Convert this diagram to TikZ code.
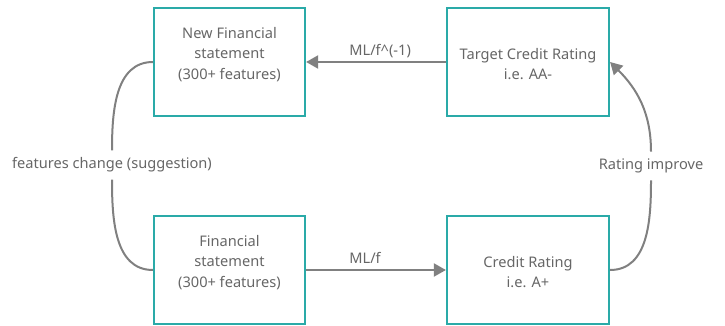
\documentclass[tikz,border=0pt]{standalone}
\usepackage{fontspec}
\setmainfont{Noto Sans}
\usetikzlibrary{arrows.meta}
\definecolor{boxteal}{RGB}{42,170,168}
\definecolor{linegray}{RGB}{128,128,128}
\definecolor{textgray}{RGB}{102,102,102}

\begin{document}
\begin{tikzpicture}[x=1pt, y=-1pt,
		box/.style={draw=boxteal, line width=2.2pt, minimum width=#1, minimum height=108pt, inner sep=0pt},
		boxtext/.style={align=center, text=textgray, font=\fontsize{14.6}{20.2}\selectfont},
		conn/.style={draw=linegray, line width=2pt},
		flow/.style={conn, -{Triangle[length=12pt, width=13pt]}},
		lbl/.style={text=textgray, font=\fontsize{14.6}{17}\selectfont, inner sep=0pt}]
		    \begin{scope}
					\useasboundingbox (0,0) rectangle (725,326);

					\node[box=151pt] (newfs) at (229.5,62) {};
					\node[box=162pt] (tcr) at (528,62) {};
					\node[box=151pt] (fs) at (229.5,270) {};
					\node[box=162pt] (cr) at (528,270) {};

					\node[boxtext] (newfs-t) at ([yshift=7.5pt]newfs.center) {New Financial\\statement\\(300+ features)};
					\node[boxtext] (tcr-t) at ([yshift=-2pt]tcr.center) {Target Credit Rating\\i.e. AA-};
					\node[boxtext] (fs-t) at ([yshift=7.5pt]fs.center) {Financial\\statement\\(300+ features)};
					\node[boxtext] (cr-t) at ([yshift=-2pt]cr.center) {Credit Rating\\i.e. A+};

					\node[lbl, inner ysep=7pt] (chg) at (112,165) {features change (suggestion)};
					\node[lbl, inner ysep=7pt] (rimp) at (651,166) {Rating improve};

					\draw[flow] (tcr.west) -- node[lbl, pos=0.6975, anchor=base west, yshift=6.5pt] (mlinv) {ML/f\textasciicircum(-1)} (newfs.east); % inverse model
					\draw[flow] (fs.east) -- node[lbl, pos=0.3025, anchor=base west, yshift=6.5pt] (ml) {ML/f} (cr.west); % model

					\draw[conn] (newfs.west) to[out=180, in=90] (chg.north); % back to the features
					\draw[conn] (chg.south) to[out=-90, in=180] (fs.west);

					\draw[conn] (cr.east) to[out=0, in=-90] (rimp.south); % up to the target
					\draw[flow] (rimp.north) to[out=90, in=-45] (tcr.east);

		    \end{scope}
		  \end{tikzpicture}
\end{document}
